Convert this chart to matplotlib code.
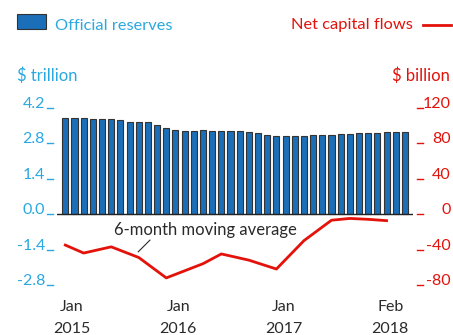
import matplotlib
matplotlib.use("Agg")
import matplotlib.pyplot as plt
import numpy as np

# ---- data ----
months = list(range(38))  # Jan 2015 .. Feb 2018
reserves = [3.77, 3.77, 3.77, 3.73, 3.73, 3.73, 3.69, 3.62, 3.62, 3.62,
            3.50, 3.38, 3.31, 3.27, 3.27, 3.31, 3.27, 3.27, 3.27, 3.27,
            3.22, 3.18, 3.12, 3.06, 3.06, 3.06, 3.06, 3.12, 3.12, 3.12,
            3.15, 3.15, 3.19, 3.19, 3.19, 3.23, 3.23, 3.23]
flow_months = [0, 2, 5, 8, 11, 13, 15, 17, 20, 23, 26, 29, 31, 33, 35]
flow_values = [-35, -44, -37, -49, -72, -64, -56, -45, -52, -62, -30, -7, -5, -6, -7.5]
left_ticks = [-2.8, -1.4, 0.0, 1.4, 2.8, 4.2]
left_tick_labels = ["-2.8", "-1.4", "0.0", "1.4", "2.8", "4.2"]
right_ticks = [-80, -40, 0, 40, 80, 120]
right_tick_labels = ["-80", "-40", "0", "40", "80", "120"]
x_tick_labels = ["Jan\n2015", "Jan\n2016", "Jan\n2017", "Feb\n2018"]
x_tick_pos = [0.7, 12.3, 23.8, 35.4]

BLUE = "#1a6fb8"
LBLUE = "#2aa8e0"
RED = "#e3120b"
DARK = "#2a2a2a"
FONT = "Lato"
plt.rcParams['font.family'] = [FONT, 'DejaVu Sans']

W, H = 453, 335
fig = plt.figure(figsize=(W / 100, H / 100), dpi=100)

def fx(px):
    return px / W

def fy(py):
    return 1 - py / H

ax_l, ax_r, ax_t, ax_b = 57, 413, 100, 290
ax = fig.add_axes([fx(ax_l), fy(ax_b), fx(ax_r) - fx(ax_l), fy(ax_t) - fy(ax_b)])
ax.set_xlim(-0.904, 37.88)
ylo, yhi = -2.997, 4.496
ax.set_ylim(ylo, yhi)
scale = 40 / 1.4
ax2 = ax.twinx()
ax2.set_ylim(ylo * scale, yhi * scale)
for a in (ax, ax2):
    for s in a.spines.values():
        s.set_visible(False)
    a.set_xticks([])
    a.set_yticks([])
    a.patch.set_alpha(0)

ax.bar(months, reserves, width=0.66, color=BLUE, edgecolor="#333333", linewidth=0.8, zorder=2)
ax.axhline(0, color="#222222", lw=1.0, zorder=3)
ax2.plot(flow_months, flow_values, color=RED, lw=2.0, solid_joinstyle='round', zorder=4)

# left tick labels
axw = ax_r - ax_l
axh = ax_b - ax_t
for v, lab in zip(left_ticks, left_tick_labels):
    ax.text((45 - ax_l) / axw, v, lab, transform=ax.get_yaxis_transform(),
            ha="right", va="baseline", color=LBLUE, fontsize=11.5, clip_on=False)
    ax.plot([(47 - ax_l) / axw, (53 - ax_l) / axw], [v, v], transform=ax.get_yaxis_transform(),
            color=LBLUE, lw=1.0, clip_on=False)
for v, lab in zip(right_ticks, right_tick_labels):
    ax2.text((451 - ax_l) / axw, v, lab, transform=ax2.get_yaxis_transform(),
             ha="right", va="baseline", color=RED, fontsize=11.5, clip_on=False)
    ax2.plot([(416.5 - ax_l) / axw, (422.5 - ax_l) / axw], [v, v], transform=ax2.get_yaxis_transform(),
             color=RED, lw=1.0, clip_on=False)

# x labels (two lines each)
for p, lab in zip(x_tick_pos, x_tick_labels):
    top, bottom = lab.split("\n")
    ax.text(p, (ax_b - 311) / axh, top, transform=ax.get_xaxis_transform(),
            ha="center", va="baseline", color=DARK, fontsize=11.5, clip_on=False)
    ax.text(p, (ax_b - 333) / axh, bottom, transform=ax.get_xaxis_transform(),
            ha="center", va="baseline", color=DARK, fontsize=11.5, clip_on=False)

# annotation
ax.text(15.27, -0.83, "6-month moving average", ha="center", va="baseline",
        color=DARK, fontsize=12, zorder=5)
ax.plot([7.95, 9.22], [-1.49, -1.03], color=DARK, lw=0.8, zorder=5)

# legend & units
fig.patches.append(plt.Rectangle((fx(17), fy(29)), fx(46) - fx(17), fy(14) - fy(29),
                                 transform=fig.transFigure, facecolor=BLUE, edgecolor="#333333", lw=0.8))
fig.text(fx(55), fy(29.5), "Official reserves", color=LBLUE, fontsize=11.8, ha="left", va="baseline")
fig.text(fx(413), fy(29.5), "Net capital flows", color=RED, fontsize=11.8, ha="right", va="baseline")
fig.lines.append(plt.Line2D([fx(423), fx(451)], [fy(25), fy(25)], transform=fig.transFigure, color=RED, lw=2.0))
fig.text(fx(17), fy(81), "$ trillion", color=LBLUE, fontsize=12, ha="left", va="baseline")
fig.text(fx(450), fy(81), "$ billion", color=RED, fontsize=12, ha="right", va="baseline")

fig.savefig("out.png", dpi=100)
